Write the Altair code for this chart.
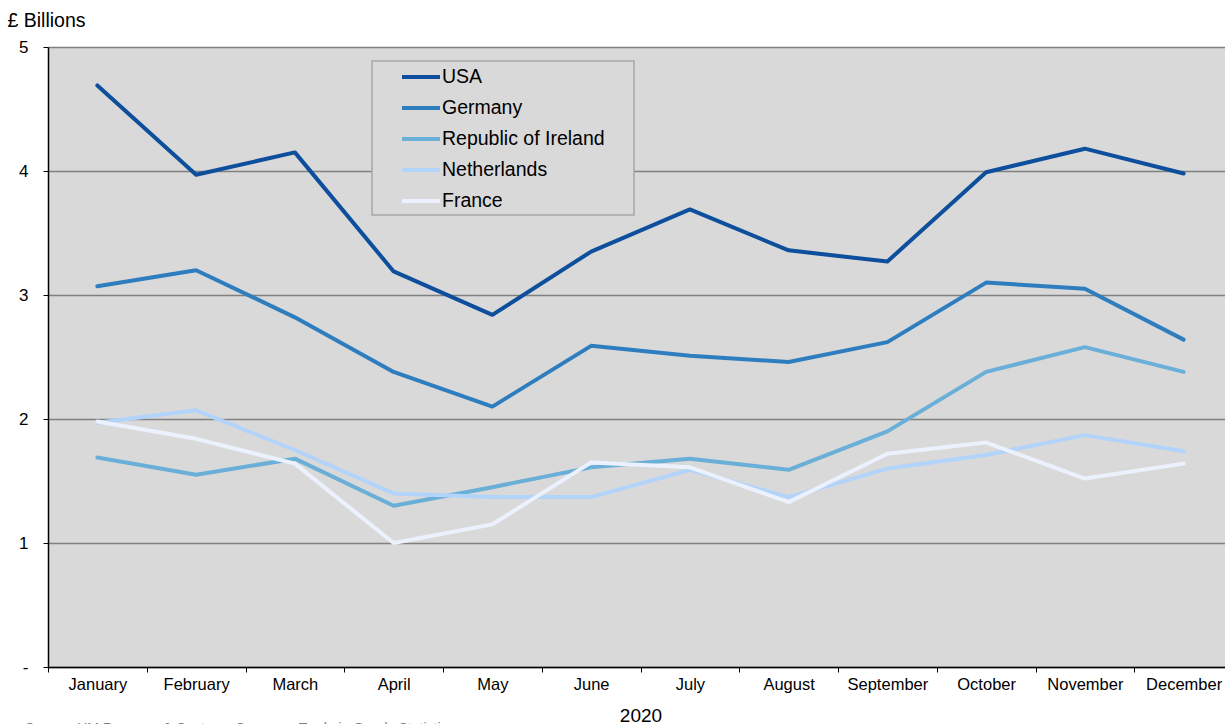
import altair as alt
import pandas as pd

months = ["January", "February", "March", "April", "May", "June", "July",
          "August", "September", "October", "November", "December"]
countries = ["USA", "Germany", "Republic of Ireland", "Netherlands", "France"]
usa = [4.69, 3.97, 4.15, 3.19, 2.84, 3.35, 3.69, 3.36, 3.27, 3.99, 4.18, 3.98]
germany = [3.07, 3.20, 2.82, 2.38, 2.10, 2.59, 2.51, 2.46, 2.62, 3.10, 3.05, 2.64]
ireland = [1.69, 1.55, 1.68, 1.30, 1.45, 1.61, 1.68, 1.59, 1.90, 2.38, 2.58, 2.38]
netherlands = [1.97, 2.07, 1.75, 1.40, 1.37, 1.37, 1.59, 1.37, 1.60, 1.71, 1.87, 1.74]
france = [1.98, 1.84, 1.64, 1.00, 1.15, 1.65, 1.61, 1.33, 1.72, 1.81, 1.52, 1.64]
colors = ["#0d4f9c", "#2e7ebf", "#6aafd8", "#b2d3fa", "#ebf1fd"]
source_note = "Source: HM Revenue & Customs Overseas Trade in Goods Statistics"

series = [usa, germany, ireland, netherlands, france]
rows = []
for name, vals in zip(countries, series):
    for m, v in zip(months, vals):
        rows.append({"Month": m, "Country": name, "Value": v})
df = pd.DataFrame(rows)

FONT = "Liberation Sans, Arial, sans-serif"

lines = alt.Chart(df).mark_line(strokeWidth=4, strokeCap="round", strokeJoin="round").encode(
    x=alt.X("Month:N", sort=months,
            scale=alt.Scale(range=[0, 1185], paddingInner=0, paddingOuter=0),
            axis=alt.Axis(title="2020", labelAngle=0, tickBand="extent", tickSize=5,
                          tickColor="black", domainColor="black", domainWidth=1.5,
                          labelFontSize=16.5, labelPadding=4, labelColor="black",
                          labelFont=FONT, titleFont=FONT, titleFontSize=19,
                          titleFontWeight="normal", titleColor="black",
                          titleBaseline="alphabetic", titleY=54, grid=False)),
    y=alt.Y("Value:Q", scale=alt.Scale(domain=[0, 5], nice=False, zero=True),
            axis=alt.Axis(values=[0, 1, 2, 3, 4, 5],
                          labelExpr="datum.value == 0 ? '-' : datum.label",
                          grid=True, gridColor="#808080", gridWidth=1.5,
                          domainColor="black", domainWidth=1.5, tickColor="black",
                          tickSize=5, labelFontSize=17, labelPadding=15,
                          labelColor="black", labelFont=FONT,
                          title="£ Billions", titleAngle=0, titleAlign="left",
                          titleBaseline="alphabetic", titleX=-41, titleY=-21,
                          titleFont=FONT, titleFontSize=19.5, titleFontWeight="normal",
                          titleColor="black")),
    color=alt.Color("Country:N", sort=countries,
                    scale=alt.Scale(domain=countries, range=colors),
                    legend=alt.Legend(orient="none", legendX=352, legendY=9, title=None,
                                      symbolType="stroke", symbolSize=1444,
                                      symbolStrokeWidth=4, labelFontSize=19.5,
                                      labelFont=FONT, labelColor="black",
                                      labelOffset=0, rowPadding=-11, padding=0,
                                      labelLimit=400)),
    order=alt.Order("Country:N"),
)

box = alt.Chart(alt.Data(values=[{}])).mark_rect(
    fill="#d9d9d9", stroke="#a6a6a6", strokeWidth=1.5
).encode(x=alt.value(324), x2=alt.value(586), y=alt.value(14), y2=alt.value(168))

note = alt.Chart(alt.Data(values=[{}])).mark_text(
    align="left", baseline="top", fontSize=14, color="#7f7f7f", font=FONT
).encode(x=alt.value(-23), y=alt.value(675), text=alt.value(source_note))

chart = alt.layer(box, lines, note).properties(
    width=1177, height=620,
    autosize=alt.AutoSizeParams(type="none"),
    padding={"left": 48, "top": 47, "right": 0, "bottom": 57},
    background="white",
).configure_view(fill="#d9d9d9", stroke="transparent")

chart.save("out.html", embed_options={"renderer": "svg", "actions": False})
